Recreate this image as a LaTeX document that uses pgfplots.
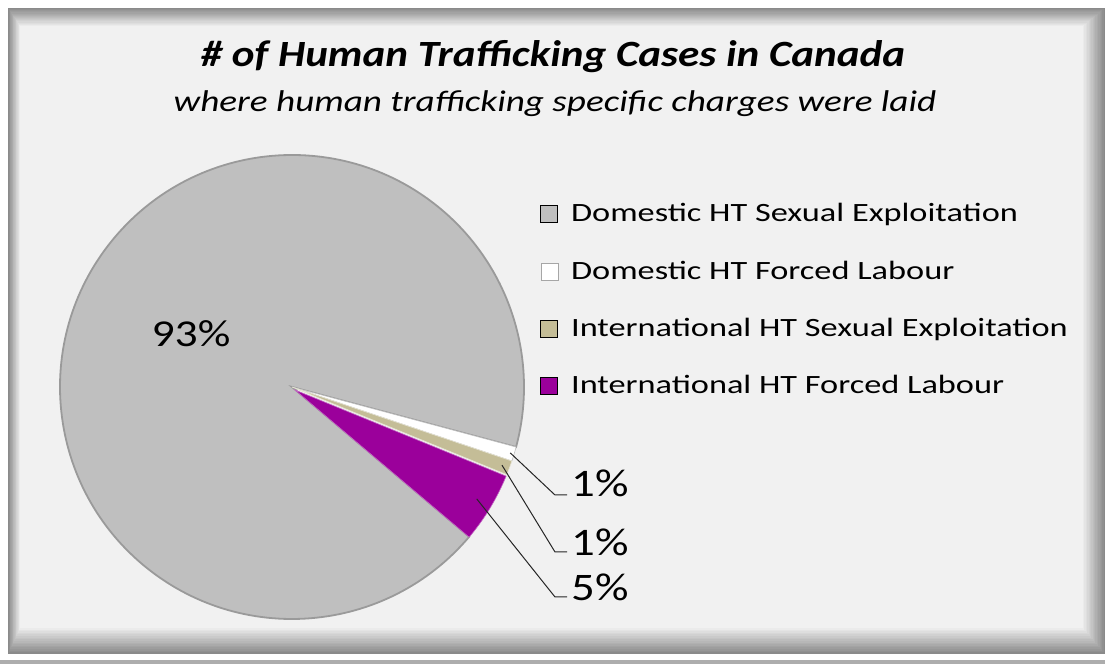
\documentclass[border=0pt]{standalone}
\usepackage{pgfplots}
\pgfplotsset{compat=1.18}
\usepackage{pgfplotstable}
\usepackage{fontspec}
\setmainfont{Carlito}
\newfontfamily\titlefont{Carlito}[FakeStretch=1.165]
\newfontfamily\subfont{Carlito}[FakeStretch=1.24]
\newfontfamily\legfont{Carlito}[FakeStretch=1.3]
\newfontfamily\labfont{Carlito}[FakeStretch=1.2]
\definecolor{slgray}{HTML}{BFBFBF}
\definecolor{sltan}{HTML}{C4BD97}
\definecolor{slpurple}{HTML}{9B009B}
\definecolor{rim}{HTML}{9A9A9A}

% shares in percent, in drawing order (clockwise from the white slice's upper edge)
\pgfplotstableread{
share
93
1
1
5
}\piedata
\pgfplotstablegetelem{0}{share}\of\piedata \let\vA\pgfplotsretval
\pgfplotstablegetelem{1}{share}\of\piedata \let\vB\pgfplotsretval
\pgfplotstablegetelem{2}{share}\of\piedata \let\vC\pgfplotsretval
\pgfplotstablegetelem{3}{share}\of\piedata \let\vD\pgfplotsretval
\pgfmathsetmacro\aS{-15}
\pgfmathsetmacro\aB{\aS-3.6*\vB}
\pgfmathsetmacro\aC{\aB-3.6*\vC}
\pgfmathsetmacro\aD{\aC-3.6*\vD}
\pgfmathsetmacro\mB{(\aS+\aB)/2}
\pgfmathsetmacro\mC{(\aB+\aC)/2}
\pgfmathsetmacro\mD{(\aC+\aD)/2}
\pgfmathsetmacro\dA{-3.6*\vA}
\pgfmathsetmacro\dB{-3.6*\vB}
\pgfmathsetmacro\dC{-3.6*\vC}
\pgfmathsetmacro\dD{-3.6*\vD}

\begin{document}
\begin{tikzpicture}
% background frame
\fill[white] (0,0) rectangle (552.5pt,332pt);
\fill[black!32] (0,0) rectangle (552.5pt,2pt);
\foreach \i in {0,...,16}{
  \pgfmathsetmacro\t{\i/16}
  \pgfmathsetmacro\c{46-40.5*\t}
  \pgfmathsetmacro\l{4+6*\t}
  \pgfmathsetmacro\tp{328-9*\t}
  \pgfmathsetmacro\r{552.5-11*\t}
  \pgfmathsetmacro\b{5+13*\t}
  \fill[black!\c] (\l pt,\b pt) rectangle (\r pt,\tp pt);
}
\begin{axis}[
  at={(0,0)}, anchor=origin,
  x=0.5pt, y=0.5pt,
  xmin=0, xmax=1105, ymin=0, ymax=664,
  scale only axis, hide axis, clip=false,
  legend image code/.code={\draw[#1] (0pt,-4.25pt) rectangle (8.5pt,4.25pt); \path (13pt,0pt);},
  legend style={at={(axis cs:540,465)}, anchor=north west, draw=none, fill=none,
    font=\legfont\fontsize{13.2}{15.8}\selectfont, row sep=14pt, inner sep=0pt,
    cells={anchor=west}},
]
% slices
\fill[slgray, draw=rim, line width=0.9pt] (axis cs:292,277) -- +(\aD:116pt)
   arc[start angle=\aD, delta angle=\dA, radius=116pt] -- cycle;
\fill[white, draw=black!25, line width=0.3pt] (axis cs:292,277) -- +(\aS:116pt)
   arc[start angle=\aS, delta angle=\dB, radius=116pt] -- cycle;
\fill[sltan, draw=white!60!sltan, line width=0.3pt] (axis cs:292,277) -- +(\aB:116pt)
   arc[start angle=\aB, delta angle=\dC, radius=116pt] -- cycle;
\fill[slpurple, draw=white!40!slpurple, line width=0.3pt] (axis cs:295,274) -- +(\aC:114pt)
   arc[start angle=\aC, delta angle=\dD, radius=114pt] -- cycle;
% leader lines
\draw[black!85, line width=0.5pt] (axis cs:292,277) ++(\mB:114pt) -- (axis cs:555,169) -- (axis cs:567,169);
\draw[black!85, line width=0.5pt] (axis cs:292,277) ++(\mC:112pt) -- (axis cs:555,112) -- (axis cs:567,112);
\draw[black!85, line width=0.5pt] (axis cs:292,277) ++(\mD:108pt) -- (axis cs:555,67) -- (axis cs:567,67);
% data labels
\node[anchor=west, inner sep=0pt, font=\labfont\fontsize{19.5}{22}\selectfont] at (axis cs:571,181) {1\%};
\node[anchor=west, inner sep=0pt, font=\labfont\fontsize{19.5}{22}\selectfont] at (axis cs:571,122) {1\%};
\node[anchor=west, inner sep=0pt, font=\labfont\fontsize{19.5}{22}\selectfont] at (axis cs:571,77) {5\%};
\node[anchor=center, inner sep=0pt, font=\labfont\fontsize{19}{22}\selectfont] at (axis cs:191,330) {93\%};
% titles
\node[anchor=base, inner sep=0pt, font=\titlefont\fontsize{18.5}{22}\selectfont\bfseries\itshape] at (axis cs:553,597) {\# of Human Trafficking Cases in Canada};
\node[anchor=base, inner sep=0pt, font=\subfont\fontsize{15}{18}\selectfont\itshape] at (axis cs:555,552) {where human trafficking specific charges were laid};
% legend
\addlegendimage{fill=slgray, draw=none}
\addlegendentry{Domestic HT Sexual Exploitation}
\addlegendimage{fill=white, draw=black!35, line width=0.3pt}
\addlegendentry{Domestic HT Forced Labour}
\addlegendimage{fill=sltan, draw=none}
\addlegendentry{International HT Sexual Exploitation}
\addlegendimage{fill=slpurple, draw=none}
\addlegendentry{International HT Forced Labour}
\end{axis}
\end{tikzpicture}
\end{document}
